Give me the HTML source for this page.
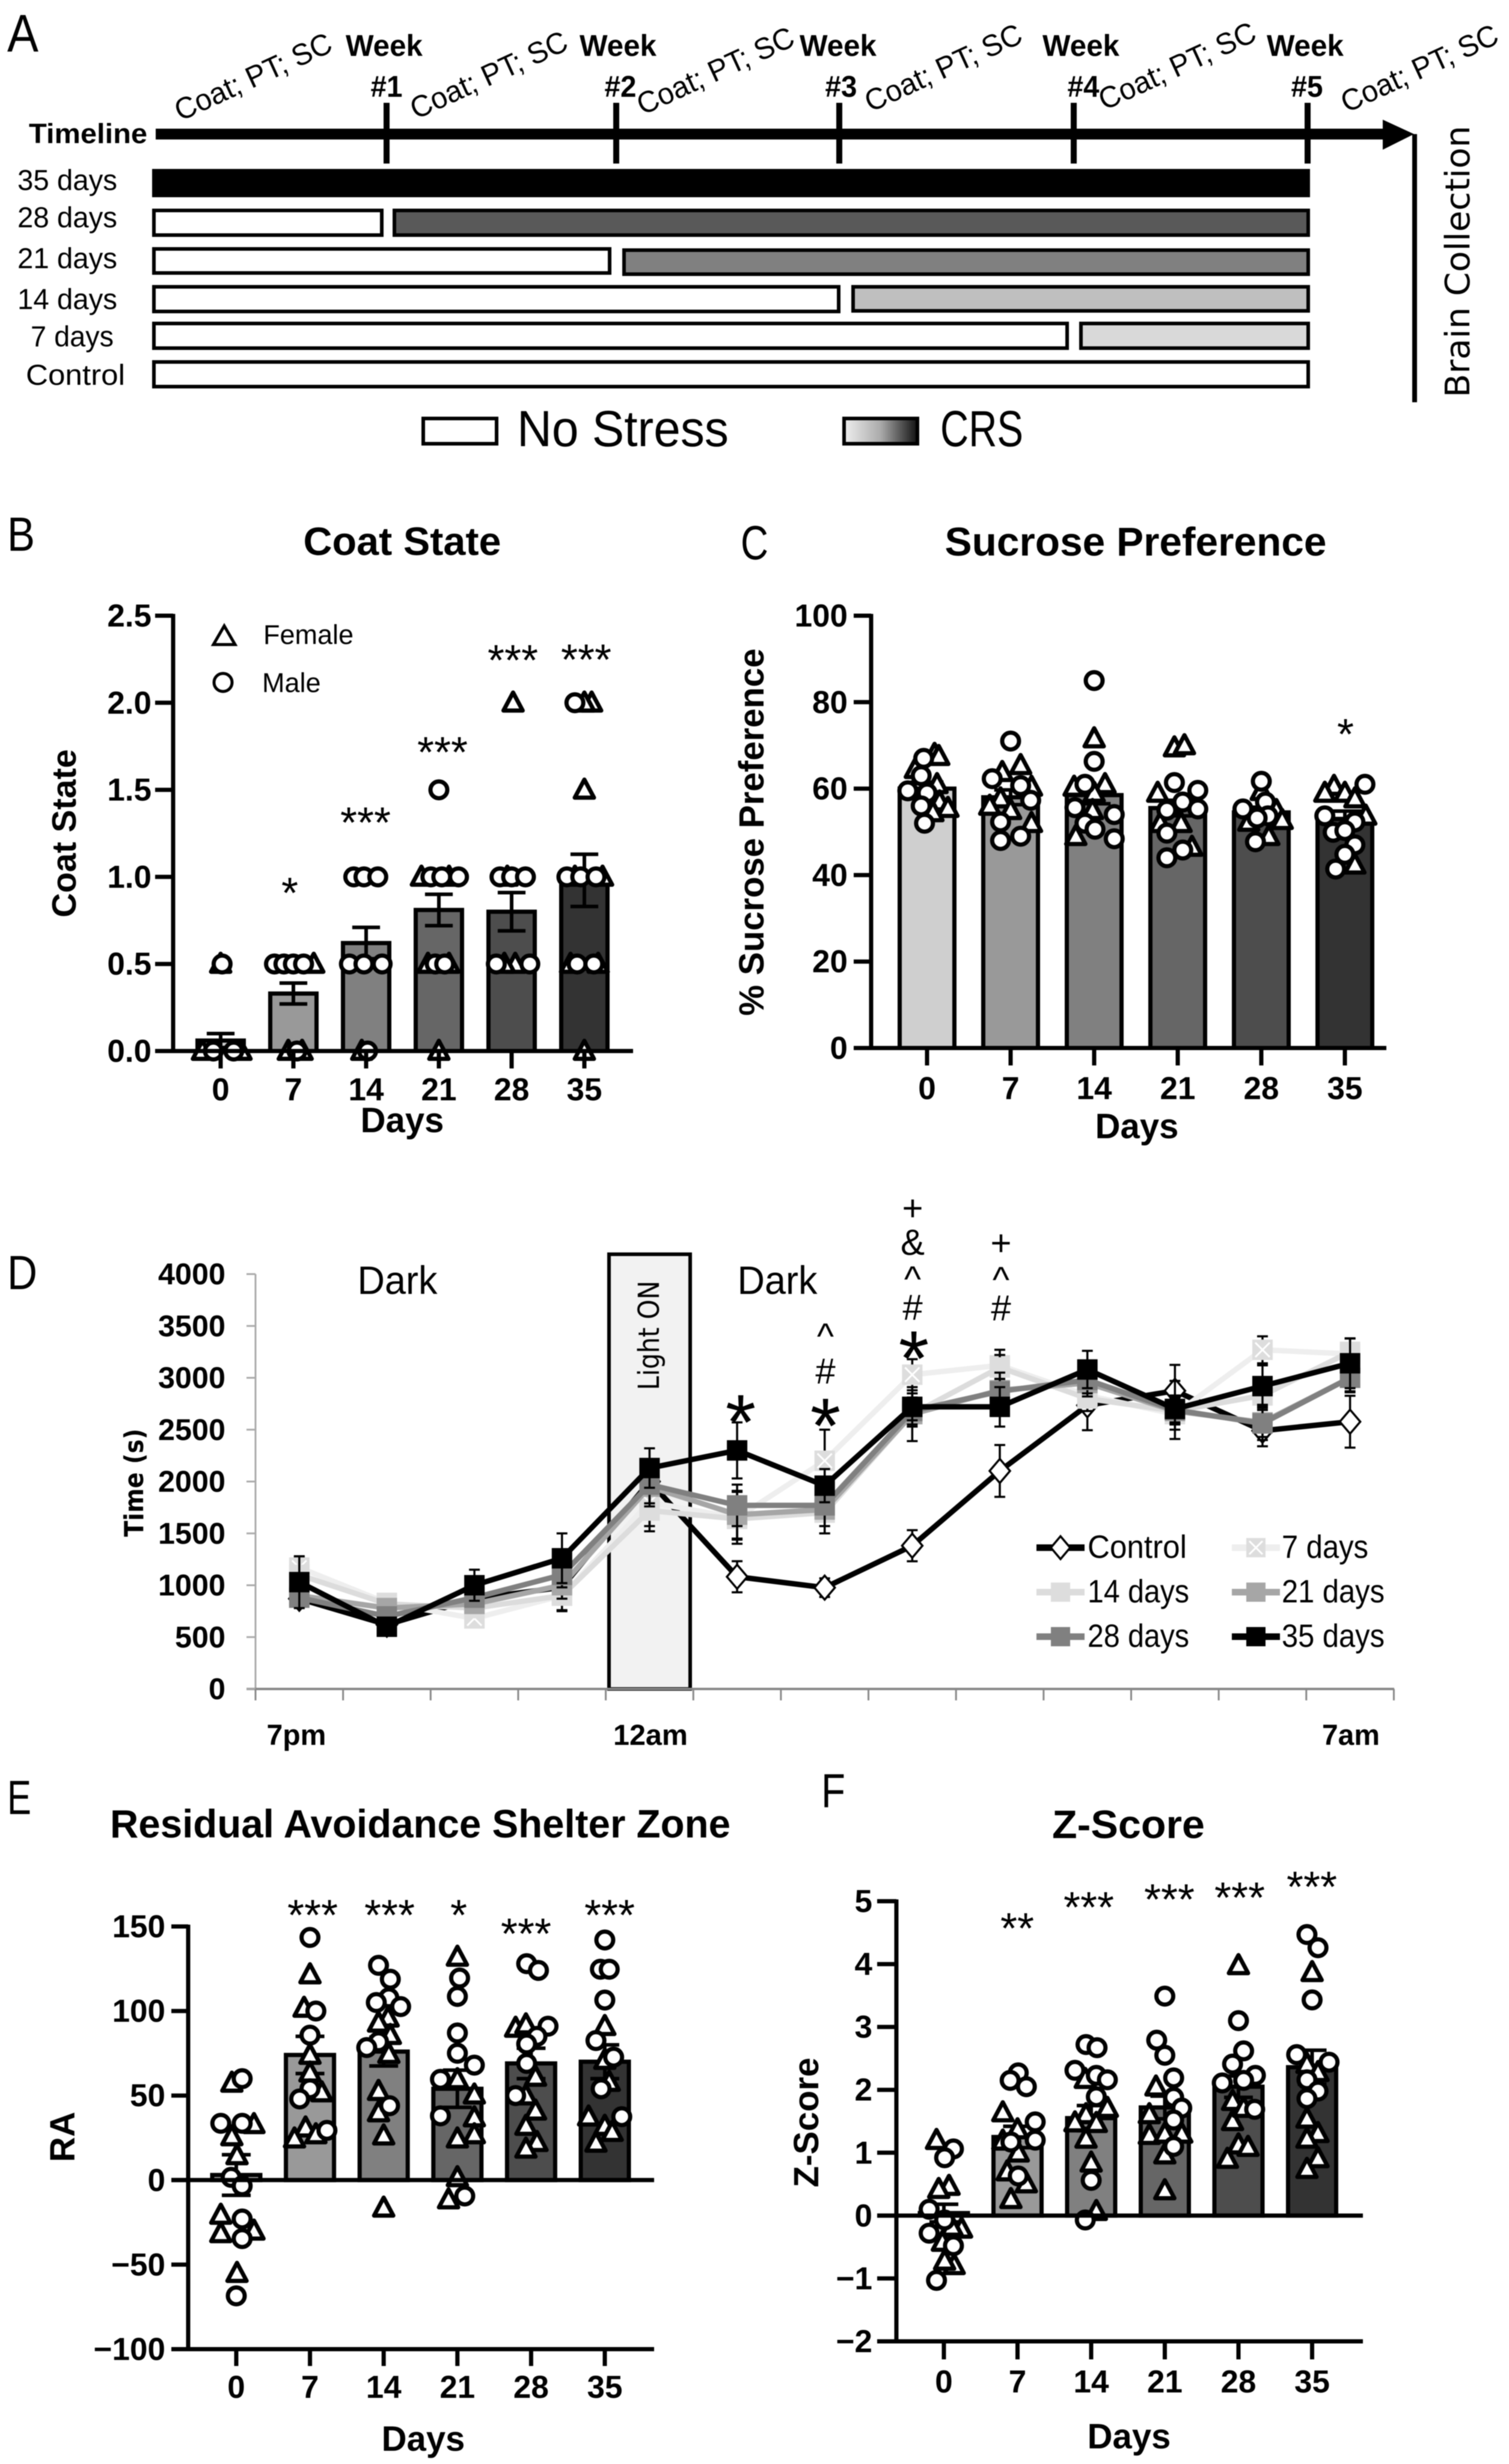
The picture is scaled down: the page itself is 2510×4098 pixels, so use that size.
<!DOCTYPE html>
<html lang="en">
<head>
<meta charset="utf-8">
<title>Chronic restraint stress timeline and behavioural outcomes</title>
<style>
html,body{margin:0;padding:0;background:#fff;}
svg{display:block;filter:blur(0.9px);}
text{font-family:"Liberation Sans",sans-serif;fill:#000;}
.b{font-weight:bold;}
.dv{font-family:"DejaVu Sans","Liberation Sans",sans-serif;}
</style>
</head>
<body>
<svg id="figure" xmlns="http://www.w3.org/2000/svg" width="2510" height="4098" viewBox="0 0 2510 4098">
<defs>
<linearGradient id="crsGrad" x1="0" x2="1" y1="0" y2="0"><stop offset="0" stop-color="#efefef"/><stop offset="0.5" stop-color="#aaaaaa"/><stop offset="1" stop-color="#111111"/></linearGradient>
</defs>
<rect x="0" y="0" width="2510" height="4098" fill="#fff"/>

<!-- Panel A -->
<g>
<text x="12" y="86" font-size="88" textLength="52" lengthAdjust="spacingAndGlyphs">A</text>
<text class="b" x="48" y="238" font-size="46" textLength="197" lengthAdjust="spacingAndGlyphs">Timeline</text>
<rect x="259" y="214" width="2045" height="18" fill="#000"/>
<polygon points="2300,199 2352,223 2300,249" fill="#000"/>
<g fill="#000">
<rect x="638" y="171" width="10" height="101"/>
<rect x="1020" y="171" width="10" height="101"/>
<rect x="1391" y="171" width="10" height="101"/>
<rect x="1781" y="171" width="10" height="101"/>
<rect x="2170" y="171" width="10" height="101"/>
</g>
<g class="b" font-size="50" font-weight="bold" text-anchor="middle">
<text x="639" y="93" textLength="128" lengthAdjust="spacingAndGlyphs">Week</text>
<text x="643" y="161" textLength="53" lengthAdjust="spacingAndGlyphs">#1</text>
<text x="1028" y="93" textLength="128" lengthAdjust="spacingAndGlyphs">Week</text>
<text x="1032" y="161" textLength="53" lengthAdjust="spacingAndGlyphs">#2</text>
<text x="1394" y="93" textLength="128" lengthAdjust="spacingAndGlyphs">Week</text>
<text x="1399" y="161" textLength="53" lengthAdjust="spacingAndGlyphs">#3</text>
<text x="1798" y="93" textLength="128" lengthAdjust="spacingAndGlyphs">Week</text>
<text x="1802" y="161" textLength="53" lengthAdjust="spacingAndGlyphs">#4</text>
<text x="2171" y="93" textLength="128" lengthAdjust="spacingAndGlyphs">Week</text>
<text x="2174" y="161" textLength="53" lengthAdjust="spacingAndGlyphs">#5</text>
</g>
<g font-size="50">
<text transform="translate(300 202) rotate(-24.7)" textLength="282" lengthAdjust="spacingAndGlyphs">Coat; PT; SC</text>
<text transform="translate(692 199) rotate(-24.7)" textLength="282" lengthAdjust="spacingAndGlyphs">Coat; PT; SC</text>
<text transform="translate(1069 192) rotate(-24.7)" textLength="282" lengthAdjust="spacingAndGlyphs">Coat; PT; SC</text>
<text transform="translate(1448 187) rotate(-24.7)" textLength="282" lengthAdjust="spacingAndGlyphs">Coat; PT; SC</text>
<text transform="translate(1837 184) rotate(-24.7)" textLength="282" lengthAdjust="spacingAndGlyphs">Coat; PT; SC</text>
<text transform="translate(2240 188) rotate(-24.7)" textLength="282" lengthAdjust="spacingAndGlyphs">Coat; PT; SC</text>
</g>
<g font-size="48">
<text x="29" y="316" textLength="166" lengthAdjust="spacingAndGlyphs">35 days</text>
<text x="29" y="378" textLength="166" lengthAdjust="spacingAndGlyphs">28 days</text>
<text x="29" y="446" textLength="166" lengthAdjust="spacingAndGlyphs">21 days</text>
<text x="29" y="514" textLength="166" lengthAdjust="spacingAndGlyphs">14 days</text>
<text x="51" y="576" textLength="138" lengthAdjust="spacingAndGlyphs">7 days</text>
<text x="43" y="640" textLength="165" lengthAdjust="spacingAndGlyphs">Control</text>
</g>
<g stroke="#000" stroke-width="6">
<rect x="256" y="284" width="1920" height="41" fill="#000"/>
<rect x="256" y="350" width="379" height="41" fill="#fff"/>
<rect x="656" y="350" width="1520" height="41" fill="#595959"/>
<rect x="256" y="414" width="758" height="40" fill="#fff"/>
<rect x="1038" y="416" width="1138" height="40" fill="#808080"/>
<rect x="256" y="477" width="1139" height="41" fill="#fff"/>
<rect x="1419" y="477" width="757" height="40" fill="#bfbfbf"/>
<rect x="256" y="538" width="1519" height="41" fill="#fff"/>
<rect x="1798" y="538" width="378" height="41" fill="#d9d9d9"/>
<rect x="256" y="602" width="1920" height="41" fill="#fff"/>
</g>
<rect x="2349" y="223" width="8" height="446" fill="#000"/>
<text class="dv" font-size="56" text-anchor="middle" transform="translate(2444 435) rotate(-90)" textLength="452" lengthAdjust="spacingAndGlyphs">Brain Collection</text>
<rect x="704" y="696" width="122" height="42" fill="#fff" stroke="#000" stroke-width="6"/>
<text x="860" y="742" font-size="84" textLength="352" lengthAdjust="spacingAndGlyphs">No Stress</text>
<rect x="1404" y="696" width="122" height="42" fill="url(#crsGrad)" stroke="#000" stroke-width="6"/>
<text x="1564" y="742" font-size="84" textLength="138" lengthAdjust="spacingAndGlyphs">CRS</text>
</g>

<!-- Panel B static text -->
<g>
<text x="12" y="916" font-size="80" textLength="46" lengthAdjust="spacingAndGlyphs">B</text>
<text class="b" x="669" y="923" font-size="66" text-anchor="middle" textLength="329" lengthAdjust="spacingAndGlyphs">Coat State</text>
<text class="b" font-size="57" text-anchor="middle" transform="translate(126 1386) rotate(-90)" textLength="280" lengthAdjust="spacingAndGlyphs">Coat State</text>
<text class="b" x="669" y="1883" font-size="58" text-anchor="middle">Days</text>
<polygon points="373,1041 391,1072 355,1072" fill="#fff" stroke="#000" stroke-width="5"/>
<text x="438" y="1071" font-size="45" fill="#222">Female</text>
<circle cx="371" cy="1135" r="15" fill="#fff" stroke="#000" stroke-width="5"/>
<text x="436" y="1151" font-size="45" fill="#222">Male</text>
<g font-size="72" text-anchor="middle">
<text x="482" y="1510">*</text>
<text x="608" y="1393">***</text>
<text x="736" y="1276">***</text>
<text x="853" y="1123">***</text>
<text x="975" y="1122">***</text>
</g>
</g>

<!-- Panel C static text -->
<g>
<text x="1232" y="930" font-size="80" textLength="46" lengthAdjust="spacingAndGlyphs">C</text>
<text class="b" x="1889" y="924" font-size="67" text-anchor="middle" textLength="635" lengthAdjust="spacingAndGlyphs">Sucrose Preference</text>
<text class="b" font-size="58" text-anchor="middle" transform="translate(1270 1384) rotate(-90)" textLength="611" lengthAdjust="spacingAndGlyphs">% Sucrose Preference</text>
<text class="b" x="1891" y="1893" font-size="58" text-anchor="middle">Days</text>
<text x="2238" y="1246" font-size="72" text-anchor="middle">*</text>
</g>

<!-- Panel D static text -->
<g>
<text x="12" y="2144" font-size="80" textLength="50" lengthAdjust="spacingAndGlyphs">D</text>
<text class="dv" font-weight="bold" font-size="44" text-anchor="middle" transform="translate(238 2466) rotate(-90)" textLength="180" lengthAdjust="spacingAndGlyphs">Time (s)</text>
<text x="661" y="2152" font-size="66" text-anchor="middle" textLength="133" lengthAdjust="spacingAndGlyphs">Dark</text>
<text x="1293" y="2152" font-size="66" text-anchor="middle" textLength="133" lengthAdjust="spacingAndGlyphs">Dark</text>
<text class="b" x="493" y="2902" font-size="48" text-anchor="middle" textLength="99" lengthAdjust="spacingAndGlyphs">7pm</text>
<text class="b" x="1082" y="2902" font-size="48" text-anchor="middle" textLength="124" lengthAdjust="spacingAndGlyphs">12am</text>
<text class="b" x="2247" y="2902" font-size="48" text-anchor="middle" textLength="96" lengthAdjust="spacingAndGlyphs">7am</text>
</g>

<!-- Panel E static text -->
<g>
<text x="12" y="3017" font-size="80" textLength="40" lengthAdjust="spacingAndGlyphs">E</text>
<text class="b" x="699" y="3056" font-size="66" text-anchor="middle" textLength="1032" lengthAdjust="spacingAndGlyphs">Residual Avoidance Shelter Zone</text>
<text class="b" font-size="58" text-anchor="middle" transform="translate(124 3554) rotate(-90)">RA</text>
<text class="b" x="704" y="4076" font-size="58" text-anchor="middle">Days</text>
<g font-size="72" text-anchor="middle">
<text x="520" y="3210">***</text>
<text x="648" y="3210">***</text>
<text x="763" y="3210">*</text>
<text x="875" y="3241">***</text>
<text x="1014" y="3210">***</text>
</g>
</g>

<!-- Panel F static text -->
<g>
<text x="1366" y="3006" font-size="80" textLength="40" lengthAdjust="spacingAndGlyphs">F</text>
<text class="b" x="1877" y="3057" font-size="66" text-anchor="middle" textLength="254" lengthAdjust="spacingAndGlyphs">Z-Score</text>
<text class="b" font-size="58" text-anchor="middle" transform="translate(1361 3530) rotate(-90)" textLength="216" lengthAdjust="spacingAndGlyphs">Z-Score</text>
<text class="b" x="1878" y="4072" font-size="58" text-anchor="middle">Days</text>
<g font-size="72" text-anchor="middle">
<text x="1692" y="3232">**</text>
<text x="1811" y="3197">***</text>
<text x="1945" y="3184">***</text>
<text x="2062" y="3181">***</text>
<text x="2182" y="3163">***</text>
</g>
</g>
</svg>

<script>
// ---------- shared categories ----------
const dayLabels = ['0','7','14','21','28','35'];

// ---------- Panel B: Coat State ----------
const coatTickValues = [0,0.5,1,1.5,2,2.5];
const coatTickLabels = ['0.0','0.5','1.0','1.5','2.0','2.5'];
const coatMeans = [0.06,0.33,0.62,0.81,0.80,0.98];
const coatSem = [0.04,0.06,0.09,0.09,0.11,0.15];
const coatFemale = [[0,0,0.5],[0.5,0,0],[0],[1,1,0.5,0.5,0],[2,1,0.5,0.5],[2,2,1.5,1,1,0.5,0.5,0]];
const coatFemaleJitter = [[-0.25,0.28,0],[0.28,-0.07,0.12],[-0.06],[-0.24,0.14,-0.15,0.14,0],[0.02,-0.06,0.05,-0.1],[0.1,0,0,0.25,-0.13,-0.19,0.19,0]];
const coatMale = [[0,0,0.5],[0.5,0.5,0.5,0.5,0],[1,1,1,0.5,0.5,0.5,0],[1.5,1,1,1,0.5,0.5],[1,1,1,0.5,0.5],[2,1,1,1,0.5,0.5]];
const coatMaleJitter = [[-0.1,0.18,0.02],[-0.26,-0.13,0,0.14,0.05],[-0.17,-0.03,0.16,-0.23,-0.03,0.22,0.02],[0,-0.11,0.04,0.27,-0.05,0.08],[-0.16,0,0.19,-0.21,0.25],[-0.13,-0.24,-0.05,0.16,-0.1,0.13]];

// ---------- Panel C: Sucrose Preference ----------
const sucroseTickValues = [0,20,40,60,80,100];
const sucroseTickLabels = ['0','20','40','60','80','100'];
const sucroseMeans = [60,58,58.5,55.5,54.5,53];
const sucroseSem = [1.5,1.7,2,1.8,1.2,1.8];
const sucroseFemale = [[68,67.5,64.5,61,57,55.5,54.5],[65.4,63.8,60.4,57.7,56,55,52],[71.6,61,60.4,59,55,49],[69.5,70,59,52,52,46.5],[59.4,55,52.7,52.3,49],[60.6,59,59,57.7,53.7,42.4]];
const sucroseFemaleJitter = [[0.09,0.14,-0.14,0.12,0.15,0.25,0.07],[0.12,-0.1,0.25,-0.12,-0.25,0,0.25],[0,0.13,-0.24,0,-0.02,-0.22],[-0.04,0.08,-0.24,0.04,-0.21,0.17],[0,0.18,0.25,-0.15,0.09],[-0.13,-0.24,0,0.12,0.25,0.12]];
const sucroseMale = [[59.5,67,63,59,56,52],[62.3,71,60.7,57.3,52.3,48,49],[85,66.3,61,55.6,54,52,50.6,48.4],[61.4,59.6,56.9,55,55.3,49.7,45.8,44],[61.7,55.3,56.9,53.7,53.2,47.7],[61,53.7,52.3,49.9,50.3,47,44.8,41.4]];
const sucroseMaleJitter = [[-0.23,-0.04,-0.07,0,-0.07,-0.03],[-0.22,0,0.12,0.24,-0.12,-0.12,0.12],[0,0,-0.11,-0.23,0.24,-0.11,0.01,0.24],[-0.04,0.24,0.06,-0.13,0.24,-0.13,0.06,-0.13],[0,-0.22,0.05,0.08,-0.05,-0.07],[0.24,-0.24,0.12,-0.14,0,0.12,0,-0.11]];

// ---------- Panel D: Time series ----------
const timeTickValues = [0,500,1000,1500,2000,2500,3000,3500,4000];
const timeTickLabels = ['0','500','1000','1500','2000','2500','3000','3500','4000'];
const timeSeriesNames = ['Control','7 days','14 days','21 days','28 days','35 days'];
const controlTime = [870,620,870,980,2000,1082,977,1381,2102,2735,2875,2490,2577];
const days7Time = [1170,830,680,900,1800,1650,2200,3030,3120,2830,2650,3270,3230];
const days14Time = [1100,820,780,900,1720,1640,1700,2650,3100,2800,2680,2830,3250];
const days21Time = [900,780,820,1000,1950,1680,1730,2650,2880,2950,2680,2570,3000];
const days28Time = [880,700,880,1100,1970,1770,1770,2680,2870,2980,2690,2560,3000];
const days35Time = [1030,600,1000,1260,2130,2300,1960,2720,2720,3080,2700,2920,3140];
const controlErr = [70,70,70,70,70,150,90,150,250,240,250,150,250];
const days7Err = [100,50,70,150,230,250,300,150,150,150,150,130,150];
const days14Err = [80,60,70,140,200,200,200,120,120,120,120,120,130];
const days21Err = [80,60,70,130,190,230,230,260,170,130,130,170,140];
const days28Err = [70,60,70,120,180,200,200,130,120,130,280,130,130];
const days35Err = [250,50,150,240,190,270,160,130,190,180,130,200,240];

// ---------- Panel E: Residual Avoidance ----------
const raTickValues = [-100,-50,0,50,100,150];
const raTickLabels = ['\u2212100','\u221250','0','50','100','150'];
const raMeans = [3,74,76,54,69,70];
const raSem = [12,11,8.5,11,9,10];
const raFemale = [[57.5,33,25.8,14.6,-20.6,-31.5,-30,-55],[121.6,101.8,74,63.5,51.8,31,24.5,27],[96,93,85.7,74.5,52.6,40,26.3,-16.4],[132,59.6,50.5,37,27,24.5,1.6,-11.5],[90,92,61,50,41,32,22.4,18.5],[91,71,58,37.5,32,28.4,22]];
const raFemaleJitter = [[-0.06,0.24,-0.06,0.01,-0.21,-0.21,0.24,0.01],[0,-0.08,0,0,0.16,-0.06,-0.21,0.08],[0.06,-0.07,0.09,0.07,-0.07,-0.07,0,0],[0,0,0.23,0.23,0.23,0,0,-0.12],[-0.21,-0.07,0.06,-0.07,0.06,-0.07,0.08,-0.07],[0,0,0.06,-0.22,0,0.1,-0.12]];
const raMale = [[60,33.6,33.6,1.6,-3.4,-23,-34.6,-68.5],[143.5,100,85.7,54,48,29.4],[127,118.8,107.8,105,102.6,81.8,78.4,44],[119.5,108.6,87,75,68,59.6,38,-9.4],[128,124,91,85,80.5,69,50],[142,124.7,124.7,106.5,82.5,72.7,54,37.5]];
const raMaleJitter = [[0.08,-0.21,0.08,-0.07,0.08,0.08,0.08,0],[0,0.08,0,0,-0.14,0.23],[-0.07,0.09,0.07,-0.1,0.23,-0.07,-0.23,0.08],[0.03,0,0,0,0.23,-0.23,-0.23,0.1],[-0.06,0.1,0.23,0.08,-0.06,-0.06,-0.21],[0,-0.06,0.06,0,-0.12,0.12,-0.05,0.23]];

// ---------- Panel F: Z-Score ----------
const zTickValues = [-2,-1,0,1,2,3,4,5];
const zTickLabels = ['\u22122','\u22121','0','1','2','3','4','5'];
const zMeans = [0.04,1.25,1.55,1.72,2.05,2.36];
const zSem = [0.14,0.17,0.2,0.18,0.17,0.27];
const zFemale = [[1.2,0.47,0.42,-0.21,-0.18,-0.42,-0.79,-0.72],[1.64,1.19,1,0.7,0.51,0.26,1.37],[2.17,1.71,1.61,1.48,1.47,1.22,0.84,0.07],[2.05,1.61,1.28,1.3,1.3,0.97,0.4],[3.98,1.82,1.5,1.13,1.09,0.9,1.71],[3.87,2.41,2.28,1.54,1.31,1.22,0.91,0.74]];
const zFemaleJitter = [[-0.1,0.07,-0.07,0.24,0.11,-0.02,0.14,0.01],[-0.2,-0.2,0.01,-0.14,0.12,-0.09,0],[-0.08,0.22,-0.07,-0.22,0.07,-0.07,0,0.07],[-0.12,-0.21,-0.21,0,0.23,0,0],[0,-0.08,-0.08,0,0.13,-0.15,0.07],[0,-0.07,0.08,-0.07,0.08,-0.07,0.08,-0.07]];
const zMale = [[1.06,0.92,0.1,-0.07,-0.28,-0.48,-1.03],[2.27,2.15,2.05,1.49,1.2,1.17,0.63],[2.72,2.67,2.31,2.23,2.16,1.89,0.56,-0.07],[3.49,2.79,2.55,2.19,1.88,1.71,1.52,1.1],[3.1,2.62,2.41,2.23,2.15,2.11,1.69],[4.47,4.26,3.43,2.56,2.44,2.16,1.98,1.86]];
const zMaleJitter = [[0.13,0.01,-0.2,0.01,-0.2,0.13,-0.1],[0.01,-0.1,0.12,0.24,0.24,-0.09,0.01],[-0.07,0.08,-0.22,0.07,0.22,0.07,0,-0.08],[0,-0.11,0,0.12,0.12,0.23,0.12,0.12],[0,0.07,-0.08,0.23,0.07,-0.22,0.22],[-0.07,0.08,0,-0.21,0.23,-0.07,0.08,-0.07]];

// ---------- drawing ----------
const NS = 'http://www.w3.org/2000/svg';
const root = document.getElementById('figure');
const barFills = ['#cfcfcf','#999999','#808080','#666666','#4d4d4d','#333333'];

function mk(tag, attrs, parent) {
  const el = document.createElementNS(NS, tag);
  for (const k in attrs) el.setAttribute(k, attrs[k]);
  parent.appendChild(el);
  return el;
}

function drawTriangle(x, y, parent) {
  const tri = mk('polygon', {
    points: (x)+','+(y-17)+' '+(x+16)+','+(y+13)+' '+(x-16)+','+(y+13),
    fill:'#fff', stroke:'#000', 'stroke-width':7, 'stroke-linejoin':'round'
  }, parent);
  
  
}

function drawCircle(x, y, parent) {
  const c = mk('circle', {cx:x, cy:y, r:14, fill:'#fff', stroke:'#000', 'stroke-width':7}, parent);
  
  
}

function barPanel(geom, tickValues, tickLabels, means, sem, female, femaleJitter, male, maleJitter) {
  const g = mk('g', {}, root);
  
  
  const yScale = v => geom.yBottom + (v - geom.vMin) * (geom.yTop - geom.yBottom) / (geom.vMax - geom.vMin);
  const xScale = i => geom.x0 + i * geom.step;

  // bars
  means.forEach((m, i) => {
    const top = Math.min(yScale(m), yScale(0));
    const r = mk('rect', {x:xScale(i)-geom.barW/2, y:top, width:geom.barW, height:Math.abs(yScale(m)-yScale(0)), fill:barFills[i], stroke:'#000', 'stroke-width':7}, g);
    
    
  });
  // error whiskers
  means.forEach((m, i) => {
    const hi = yScale(m + sem[i]), lo = yScale(m - sem[i]), x = xScale(i), cap = geom.barW * 0.3;
    const p = mk('path', {d:'M'+x+' '+hi+'V'+lo+'M'+(x-cap)+' '+hi+'H'+(x+cap)+'M'+(x-cap)+' '+lo+'H'+(x+cap), fill:'none', stroke:'#000', 'stroke-width':6}, g);
    
    
  });
  // individual animals
  female.forEach((vals, i) => vals.forEach((v, k) => drawTriangle(xScale(i) + femaleJitter[i][k] * geom.step, yScale(v), g)));
  male.forEach((vals, i) => vals.forEach((v, k) => drawCircle(xScale(i) + maleJitter[i][k] * geom.step, yScale(v), g)));

  // axes
  const yAxis = mk('line', {x1:geom.axisX, x2:geom.axisX, y1:geom.yTop-3, y2:geom.yBottom+3, stroke:'#000', 'stroke-width':7}, g);
  
  
  const xAxis = mk('line', {x1:geom.tickLeft, x2:geom.xEnd, y1:yScale(0), y2:yScale(0), stroke:'#000', 'stroke-width':7}, g);
  
  
  if (geom.vMin < 0) {
    const base = mk('line', {x1:geom.tickLeft, x2:geom.xEnd, y1:yScale(geom.vMin), y2:yScale(geom.vMin), stroke:'#000', 'stroke-width':7}, g);
    
    
  }
  tickValues.forEach((v, k) => {
    const y = yScale(v);
    const t = mk('line', {x1:geom.tickLeft, x2:geom.axisX, y1:y, y2:y, stroke:'#000', 'stroke-width':7}, g);
    
    
    const lab = mk('text', {x:geom.labelRight, y:y+18, 'font-size':53, 'font-weight':'bold', 'text-anchor':'end'}, g);
    lab.textContent = tickLabels[k];
    
    
  });
  dayLabels.forEach((d, i) => {
    const x = xScale(i);
    const t = mk('line', {x1:x, x2:x, y1:yScale(geom.vMin), y2:geom.tickBottom, stroke:'#000', 'stroke-width':7}, g);
    
    
    const lab = mk('text', {x:x, y:geom.labelCy+19, 'font-size':53, 'font-weight':'bold', 'text-anchor':'middle'}, g);
    lab.textContent = d;
    
    
  });
}

barPanel({name:'coat-state-chart', axisX:288, yTop:1024, yBottom:1748, vMin:0, vMax:2.5, x0:367, step:121, barW:77, xEnd:1053, tickLeft:258, tickBottom:1777, labelRight:252, labelCy:1811},
  coatTickValues, coatTickLabels, coatMeans, coatSem, coatFemale, coatFemaleJitter, coatMale, coatMaleJitter);
barPanel({name:'sucrose-preference-chart', axisX:1449, yTop:1024, yBottom:1743, vMin:0, vMax:100, x0:1542, step:139, barW:91, xEnd:2306, tickLeft:1420, tickBottom:1772, labelRight:1410, labelCy:1809},
  sucroseTickValues, sucroseTickLabels, sucroseMeans, sucroseSem, sucroseFemale, sucroseFemaleJitter, sucroseMale, sucroseMaleJitter);
barPanel({name:'residual-avoidance-chart', axisX:313, yTop:3204, yBottom:3907, vMin:-100, vMax:150, x0:393, step:122.6, barW:80, xEnd:1088, tickLeft:285, tickBottom:3935, labelRight:275, labelCy:3969},
  raTickValues, raTickLabels, raMeans, raSem, raFemale, raFemaleJitter, raMale, raMaleJitter);
barPanel({name:'z-score-chart', axisX:1491, yTop:3162, yBottom:3894, vMin:-2, vMax:5, x0:1570, step:122.5, barW:80, xEnd:2267, tickLeft:1459, tickBottom:3924, labelRight:1451, labelCy:3960},
  zTickValues, zTickLabels, zMeans, zSem, zFemale, zFemaleJitter, zMale, zMaleJitter);

// ---------- Panel D chart ----------
(function () {
  const g = mk('g', {}, root);
  
  
  const axisX = 425, axisEnd = 2319, y0 = 2809, yMaxPx = 2119, step = 145.65;
  const yScale = v => y0 + v * (yMaxPx - y0) / 4000;
  const xScale = i => axisX + step * (i + 0.5);
  const seriesValues = [controlTime, days7Time, days14Time, days21Time, days28Time, days35Time];
  const seriesErr = [controlErr, days7Err, days14Err, days21Err, days28Err, days35Err];
  const lineColors = ['#000000','#eeeeee','#dcdcdc','#a6a6a6','#808080','#000000'];
  const markColors = ['#ffffff','#dddddd','#dddddd','#a6a6a6','#808080','#000000'];

  const box = mk('rect', {x:1013, y:2086, width:135, height:723, fill:'#f2f2f2', stroke:'#000', 'stroke-width':6}, g);
  
  
  const boxLabel = mk('text', {class:'dv', 'font-size':48, 'text-anchor':'middle', transform:'translate(1096 2221) rotate(-90)', textLength:182, lengthAdjust:'spacingAndGlyphs'}, g);
  boxLabel.textContent = 'Light ON';
  
  

  const yAxis = mk('line', {x1:axisX, x2:axisX, y1:yMaxPx, y2:y0, stroke:'#aaaaaa', 'stroke-width':3}, g);
  
  
  const xAxis = mk('line', {x1:axisX-15, x2:axisEnd, y1:y0, y2:y0, stroke:'#888888', 'stroke-width':4}, g);
  
  
  timeTickValues.forEach((v, k) => {
    const y = yScale(v);
    const t = mk('line', {x1:axisX-15, x2:axisX, y1:y, y2:y, stroke:'#aaaaaa', 'stroke-width':3}, g);
    
    
    const lab = mk('text', {x:375, y:y+17, 'font-size':50, 'font-weight':'bold', 'text-anchor':'end', textLength:28*timeTickLabels[k].length, lengthAdjust:'spacingAndGlyphs'}, g);
    lab.textContent = timeTickLabels[k];
    
    
  });
  for (let k = 0; k <= 13; k++) {
    const x = axisX + step * k;
    const t = mk('line', {x1:x, x2:x, y1:y0, y2:y0+19, stroke:'#888888', 'stroke-width':3}, g);
    
    
  }

  function marker(s, x, y, parent, size) {
    const h = size / 2;
    if (s === 0) {
      const d = mk('polygon', {points:x+','+(y-h-3)+' '+(x+h)+','+y+' '+x+','+(y+h+3)+' '+(x-h)+','+y, fill:'#fff', stroke:'#000', 'stroke-width':3.5}, parent);
      
      
      return;
    }
    const sq = mk('rect', {x:x-h, y:y-h, width:size, height:size, fill:markColors[s]}, parent);
    
    
    if (s === 1) {
      const xm = mk('path', {d:'M'+(x-h+5)+' '+(y-h+5)+'L'+(x+h-5)+' '+(y+h-5)+'M'+(x+h-5)+' '+(y-h+5)+'L'+(x-h+5)+' '+(y+h-5), stroke:'#fff', 'stroke-width':3, fill:'none'}, parent);
      
      
    }
  }

  seriesValues.forEach((vals, s) => {
    const sg = mk('g', {}, g);
    
    
    vals.forEach((v, i) => {
      const x = xScale(i), hi = yScale(v + seriesErr[s][i]), lo = yScale(v - seriesErr[s][i]);
      const w = mk('path', {d:'M'+x+' '+hi+'V'+lo+'M'+(x-9)+' '+hi+'H'+(x+9)+'M'+(x-9)+' '+lo+'H'+(x+9), fill:'none', stroke:'#000', 'stroke-width':3.5}, sg);
      
      
    });
    const line = mk('polyline', {points:vals.map((v, i) => xScale(i)+','+yScale(v)).join(' '), fill:'none', stroke:lineColors[s], 'stroke-width':9}, sg);
    
    
    vals.forEach((v, i) => marker(s, xScale(i), yScale(v), sg, 34));
  });

  // legend
  timeSeriesNames.forEach((name, s) => {
    const col = s % 2, row = Math.floor(s / 2);
    const cx = col === 0 ? 1764 : 2089;
    const cy = 2574 + row * 74;
    const sw = mk('line', {x1:cx-40, x2:cx+40, y1:cy, y2:cy, stroke:lineColors[s], 'stroke-width':11}, g);
    
    
    marker(s, cx, cy, g, 32);
    const lab = mk('text', {x:col === 0 ? 1809 : 2132, y:cy+17, 'font-size':54, textLength:[165,144,169,171,169,171][s], lengthAdjust:'spacingAndGlyphs'}, g);
    lab.textContent = name;
    
    
  });
})();
</script>

<svg xmlns="http://www.w3.org/2000/svg" width="2510" height="4098" viewBox="0 0 2510 4098" style="position:absolute;left:0;top:0;pointer-events:none;">
<g text-anchor="middle" style="font-family:'Liberation Sans',sans-serif" font-size="60">
<text x="1518" y="2030">+</text>
<text x="1518" y="2087">&amp;</text>
<text x="1518" y="2148">^</text>
<text x="1518" y="2195">#</text>
<text x="1520" y="2304" font-size="130">*</text>
<text x="1665" y="2088">+</text>
<text x="1665" y="2149">^</text>
<text x="1665" y="2196">#</text>
<text x="1373" y="2243">^</text>
<text x="1373" y="2301">#</text>
<text x="1373" y="2416" font-size="130">*</text>
<text x="1232" y="2410" font-size="130">*</text>
</g>
</svg>
</body>
</html>
